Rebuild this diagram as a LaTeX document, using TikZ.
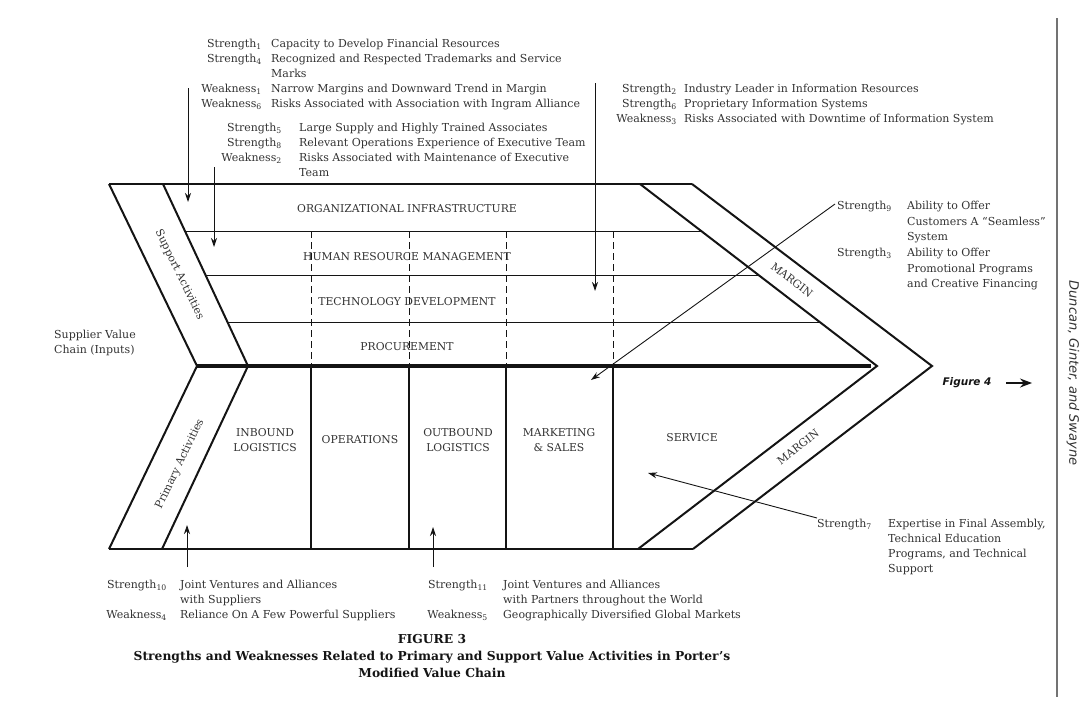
\documentclass[tikz,border=0pt]{standalone}
\usepackage{fontspec}
\setmainfont{DejaVu Serif}
\setsansfont{DejaVu Sans}
\usetikzlibrary{arrows.meta,calc}
\definecolor{ink}{RGB}{20,20,20}
\definecolor{print}{RGB}{50,50,50}
\tikzset{
  note/.style={inner sep=0pt, text=print, font=\fontsize{11}{15}\selectfont},
  tag/.style={note, anchor=north east, align=right},
  desc/.style={note, anchor=north west, align=left},
  band/.style={draw=ink, line width=2pt},
  edge/.style={draw=ink, line width=1.2pt},
  row/.style={draw=ink, line width=0.9pt},
  div/.style={draw=ink, line width=1pt, dash pattern=on 7pt off 4pt},
  spine/.style={draw=ink, line width=4pt},
  act/.style={inner sep=0pt, text=print, font=\fontsize{10.8}{15}\selectfont, align=center},
  pointer/.style={draw=ink, line width=0.9pt, -{Stealth[length=9pt,width=6pt]}},
}
\begin{document}
\begin{tikzpicture}[x=1pt,y=-1pt]
\useasboundingbox (0,0) rectangle (1091,715);

% ---- chevron frame ----
\coordinate (sO1) at (109,184); \coordinate (sO2) at (197,366); \coordinate (pO2) at (109,549);
\coordinate (sI1) at (163,184); \coordinate (sI2) at (248,366); \coordinate (pI2) at (162,549);
\coordinate (mI1) at (640,184); \coordinate (mI2) at (877,366); \coordinate (mI3) at (638,549);
\coordinate (mO1) at (692,184); \coordinate (mO2) at (932,366); \coordinate (mO3) at (693,549);
\coordinate (spineE) at (871,366);

\draw[edge] (sO1) -- (mO1);
\draw[edge] (pO2) -- (mO3);
\foreach \t in {0.258,0.505,0.758}
  \draw[row] ($(sI1)!\t!(sI2)$) -- ($(mI1)!\t!(mI2)$);
\foreach \x in {311,409,506,613} {
  \draw[div] (\x,231) -- (\x,366);
  \draw[edge] (\x,366) -- (\x,549);
}
\draw[spine] (sO2) -- (spineE);
\draw[band] (sO1) -- (sO2) -- (pO2);
\draw[band] (sI1) -- (sI2) -- (pI2);
\draw[band] (mI1) -- (mI2) -- (mI3);
\draw[band] (mO1) -- (mO2) -- (mO3);

% ---- activity labels ----
\node[act] (infra) at (407,209) {ORGANIZATIONAL INFRASTRUCTURE};
\node[act] (hrm)   at (407,257) {HUMAN RESOURCE MANAGEMENT};
\node[act] (tech)  at (407,302) {TECHNOLOGY DEVELOPMENT};
\node[act] (proc)  at (407,347) {PROCUREMENT};
\node[act] (inb)   at (265,440) {INBOUND\\LOGISTICS};
\node[act] (ops)   at (360,440) {OPERATIONS};
\node[act] (outb)  at (458,440) {OUTBOUND\\LOGISTICS};
\node[act] (mkt)   at (559,440) {MARKETING\\\& SALES};
\node[act] (serv)  at (692,438) {SERVICE};
\node[act, rotate=-64.2] (supp) at (179.5,275) {Support Activities};
\node[act, rotate=64.2]  (prim) at (180,464) {Primary Activities};
\node[act, rotate=-37.5] (marg1) at (792,280) {MARGIN};
\node[act, rotate=37.5]  (marg2) at (798,447) {MARGIN};

\node[note, align=left, anchor=west] (supplier) at (54,343) {Supplier Value\\Chain (Inputs)};

% ---- strengths and weaknesses ----
\node[tag]  (tA) at (262,36.5) {\strut Strength\textsubscript{1}\\Strength\textsubscript{4}\\\strut\\Weakness\textsubscript{1}\\Weakness\textsubscript{6}};
\node[desc] (dA) at (271,36.5) {\strut Capacity to Develop Financial Resources\\Recognized and Respected Trademarks and Service\\Marks\\Narrow Margins and Downward Trend in Margin\\Risks Associated with Association with Ingram Alliance};

\node[tag]  (tB) at (282,120.5) {\strut Strength\textsubscript{5}\\Strength\textsubscript{8}\\Weakness\textsubscript{2}};
\node[desc] (dB) at (299,120.5) {\strut Large Supply and Highly Trained Associates\\Relevant Operations Experience of Executive Team\\Risks Associated with Maintenance of Executive\\Team};

\node[tag]  (tC) at (677,81.5) {\strut Strength\textsubscript{2}\\Strength\textsubscript{6}\\Weakness\textsubscript{3}};
\node[desc] (dC) at (684,81.5) {\strut Industry Leader in Information Resources\\Proprietary Information Systems\\Risks Associated with Downtime of Information System};

\node[tag, font=\fontsize{11}{15.6}\selectfont]  (tD) at (892,198.5) {\strut Strength\textsubscript{9}\\\strut\\\strut\\Strength\textsubscript{3}};
\node[desc, font=\fontsize{11}{15.6}\selectfont] (dD) at (907,198.5) {\strut Ability to Offer\\Customers A ``Seamless''\\System\\Ability to Offer\\Promotional Programs\\and Creative Financing};

\node[tag]  (tE) at (872,516.5) {\strut Strength\textsubscript{7}};
\node[desc] (dE) at (888,516.5) {\strut Expertise in Final Assembly,\\Technical Education\\Programs, and Technical\\Support};

\node[tag]  (tF) at (167,577.5) {\strut Strength\textsubscript{10}\\\strut\\Weakness\textsubscript{4}};
\node[desc] (dF) at (180,577.5) {\strut Joint Ventures and Alliances\\with Suppliers\\Reliance On A Few Powerful Suppliers};

\node[tag]  (tG) at (488,577.5) {\strut Strength\textsubscript{11}\\\strut\\Weakness\textsubscript{5}};
\node[desc] (dG) at (503,577.5) {\strut Joint Ventures and Alliances\\with Partners throughout the World\\Geographically Diversified Global Markets};

% ---- pointers ----
\coordinate (aA1) at (188,88);  \coordinate (aA2) at (188,202);
\coordinate (aB1) at (214,167); \coordinate (aB2) at (214,247);
\coordinate (aC1) at (595,83);  \coordinate (aC2) at (595,291);
\coordinate (aD1) at (835,204); \coordinate (aD2) at (591,380);
\coordinate (aE1) at (817,518); \coordinate (aE2) at (648,473);
\coordinate (aF1) at (187,567); \coordinate (aF2) at (187,525);
\coordinate (aG1) at (433,567); \coordinate (aG2) at (433,527);
\draw[pointer] (aA1) -- (aA2);
\draw[pointer] (aB1) -- (aB2);
\draw[pointer] (aC1) -- (aC2);
\draw[pointer] (aD1) -- (aD2);
\draw[pointer] (aE1) -- (aE2);
\draw[pointer] (aF1) -- (aF2);
\draw[pointer] (aG1) -- (aG2);

% ---- figure 4 link and page furniture ----
\node[inner sep=0pt, text=ink, font=\sffamily\bfseries\itshape\fontsize{10.5}{12}\selectfont] (fig4) at (967,383) {Figure 4};
\coordinate (f4a) at (1006,383); \coordinate (f4b) at (1032,383);
\draw[draw=ink, line width=1.3pt, -{Stealth[length=12pt,width=9pt]}] (f4a) -- (f4b);

\coordinate (ruleT) at (1057,18); \coordinate (ruleB) at (1057,697);
\draw[draw=black!55, line width=1.3pt] (ruleT) -- (ruleB);
\node[inner sep=0pt, text=print, rotate=-90, font=\sffamily\itshape\fontsize{13}{15}\selectfont] (authors) at (1073,373) {Duncan, Ginter, and Swayne};

\node[inner sep=0pt, text=ink, align=center, font=\bfseries\fontsize{12.3}{17}\selectfont] (caption) at (432,656) {FIGURE 3\\Strengths and Weaknesses Related to Primary and Support Value Activities in Porter’s\\Modified Value Chain};
\end{tikzpicture}
\end{document}
